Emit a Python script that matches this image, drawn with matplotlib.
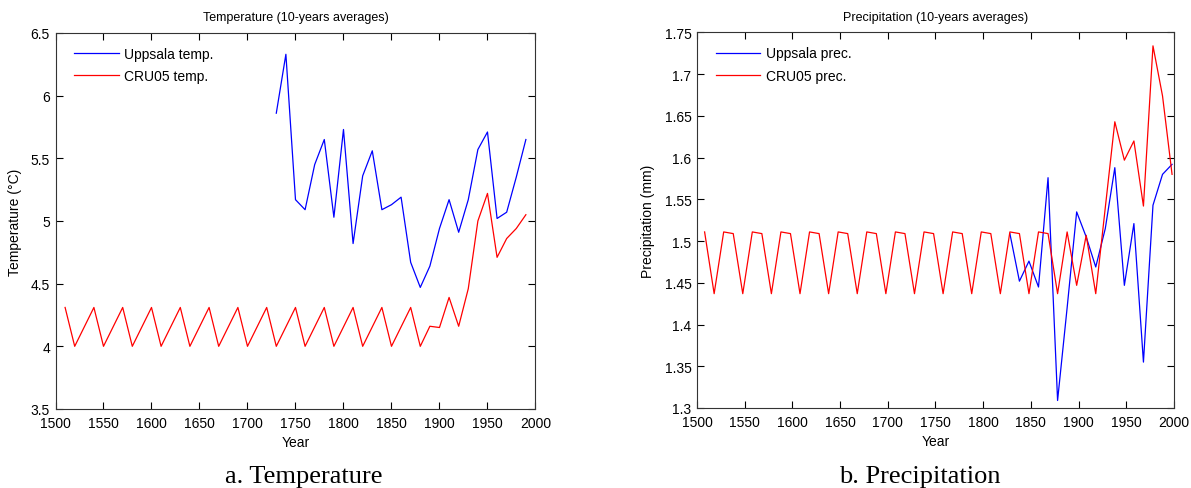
import numpy as np
import matplotlib
matplotlib.use("Agg")
import matplotlib.pyplot as plt
from matplotlib.ticker import FormatStrFormatter

plt.rcParams["font.family"] = ["Liberation Sans", "DejaVu Sans"]

# temperature, 10-year averages
temp_years = list(range(1510, 2000, 10))
cru_temp = [4.31, 4.00, 4.155, 4.31, 4.00, 4.155, 4.31, 4.00, 4.155, 4.31,
            4.00, 4.155, 4.31, 4.00, 4.155, 4.31, 4.00, 4.155, 4.31, 4.00,
            4.155, 4.31, 4.00, 4.155, 4.31, 4.00, 4.155, 4.31, 4.00, 4.155,
            4.31, 4.00, 4.155, 4.31, 4.00, 4.155, 4.31, 4.00, 4.16, 4.15,
            4.39, 4.16, 4.46, 5.00, 5.22, 4.71, 4.86, 4.94, 5.05]
upp_temp_years = list(range(1730, 2000, 10))
upp_temp = [5.86, 6.33, 5.17, 5.09, 5.45, 5.65, 5.03, 5.73, 4.82, 5.36,
            5.56, 5.09, 5.13, 5.19, 4.67, 4.47, 4.64, 4.94, 5.17, 4.91,
            5.17, 5.57, 5.71, 5.02, 5.07, 5.35, 5.65]

# precipitation, 10-year averages
prec_years = list(range(1508, 2000, 10))
cru_prec = [1.511, 1.437, 1.511, 1.509, 1.437, 1.511, 1.509, 1.437, 1.511, 1.509,
            1.437, 1.511, 1.509, 1.437, 1.511, 1.509, 1.437, 1.511, 1.509, 1.437,
            1.511, 1.509, 1.437, 1.511, 1.509, 1.437, 1.511, 1.509, 1.437, 1.511,
            1.509, 1.437, 1.511, 1.509, 1.437, 1.511, 1.509, 1.437, 1.511, 1.447,
            1.507, 1.437, 1.540, 1.643, 1.597, 1.620, 1.542, 1.734, 1.674, 1.580]
upp_prec_years = list(range(1828, 2000, 10))
upp_prec = [1.509, 1.452, 1.476, 1.445, 1.576, 1.309, 1.420, 1.535, 1.505, 1.469,
            1.515, 1.588, 1.447, 1.521, 1.355, 1.543, 1.580, 1.592]

temp_yticks = [3.5, 4, 4.5, 5, 5.5, 6, 6.5]
prec_yticks = [1.3, 1.35, 1.4, 1.45, 1.5, 1.55, 1.6, 1.65, 1.7, 1.75]
xticks = list(range(1500, 2001, 50))

fig = plt.figure(figsize=(11.91, 4.89), dpi=100)
ax1 = fig.add_axes([0.0466, 0.1616, 0.4030, 0.7689])
ax2 = fig.add_axes([0.5852, 0.1636, 0.4005, 0.7679])


def style(ax, yticks, fmt):
    ax.set_xlim(1500, 2000)
    ax.set_ylim(yticks[0], yticks[-1])
    ax.set_xticks(xticks)
    ax.set_yticks(yticks)
    ax.yaxis.set_major_formatter(FormatStrFormatter(fmt))
    ax.tick_params(direction="in", top=True, right=True, length=5, width=0.8,
                   labelsize=10)
    ax.tick_params(axis="x", pad=5)
    ax.tick_params(axis="y", pad=4)
    for s in ax.spines.values():
        s.set_linewidth(0.8)
        s.set_color("#333333")
    ax.set_xlabel("Year", fontsize=10, labelpad=4)


leg_kw = dict(loc="upper left", bbox_to_anchor=(0.01, 1.0), frameon=False,
              fontsize=10, handlelength=3.2, handletextpad=0.4,
              labelspacing=0.6, borderaxespad=0.6)

ax1.plot(upp_temp_years, upp_temp, color="#0000ff", lw=0.9, label="Uppsala temp.")
ax1.plot(temp_years, cru_temp, color="#ff0000", lw=0.9, label="CRU05 temp.")
style(ax1, temp_yticks, "%g")
ax1.set_ylabel("Temperature (°C)", fontsize=10, labelpad=6)
ax1.set_title("Temperature (10-years averages)", fontsize=9, pad=9)
ax1.legend(**leg_kw)

ax2.plot(upp_prec_years, upp_prec, color="#0000ff", lw=0.9, label="Uppsala prec.")
ax2.plot(prec_years, cru_prec, color="#ff0000", lw=0.9, label="CRU05 prec.")
style(ax2, prec_yticks, "%g")
ax2.set_ylabel("Precipitation (mm)", fontsize=10, labelpad=7)
ax2.set_title("Precipitation (10-years averages)", fontsize=9, pad=9)
ax2.legend(**leg_kw)

fig.text(0.255, 0.012, "a. Temperature", family="Liberation Serif", fontsize=19,
         ha="center", va="baseline")
fig.text(0.772, 0.012, "b. Precipitation", family="Liberation Serif", fontsize=19,
         ha="center", va="baseline")

fig.savefig("out.png", dpi=100)
